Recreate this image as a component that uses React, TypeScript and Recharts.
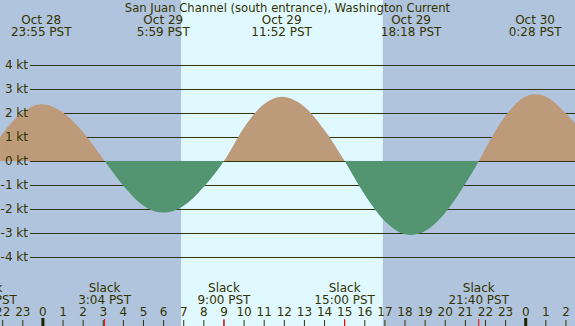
import React from "react";
import { ComposedChart, Area, XAxis, YAxis, CartesianGrid, ReferenceArea, ReferenceLine } from "recharts";

const TITLE = "San Juan Channel (south entrance), Washington Current";

// hours after Oct 29 00:00 PST, current speed in knots (flood +, ebb -)
const curveHours = [-2.13, -2, -1, -0.08, 1, 2, 3, 3.07, 4, 5, 5.98, 7, 8, 9, 10, 11, 11.87, 13, 14, 15, 16, 17, 18, 18.3, 19, 20, 21, 21.67, 22, 23, 24, 24.47, 25, 26, 26.45];
const curveKnots = [1.0, 1.15, 2.03, 2.36, 2.02, 1.2, 0.08, 0, -1.03, -1.86, -2.15, -1.86, -1.07, 0, 1.4, 2.38, 2.68, 2.26, 1.28, 0, -1.41, -2.51, -3.05, -3.08, -2.92, -2.16, -0.94, 0, 0.52, 1.89, 2.69, 2.78, 2.68, 1.98, 1.57];

const hourTicks = [-2, -1, 0, 1, 2, 3, 4, 5, 6, 7, 8, 9, 10, 11, 12, 13, 14, 15, 16, 17, 18, 19, 20, 21, 22, 23, 24, 25, 26];
const knotTicks = [-4, -3, -2, -1, 0, 1, 2, 3, 4];

// minutes after Oct 29 00:00 PST
const peakMinutes = [-5, 359, 712, 1098, 1468];
const slackMinutes = [-168, 184, 540, 900, 1300];
const daylightMinutes = [412, 1014];
const windowMinutes = [-128, 1587];
const knotRange = [-6.875, 6.7083];

const NIGHT = "#b0c4de";
const DAY = "#e0f8ff";
const FLOOD = "#bc9a7a";
const EBB = "#529570";
const INK = "#333300";
const FONT = "DejaVu Sans";
const W = 575;
const H = 326;

const data = curveHours.map((h, i) => ({ h, kt: curveKnots[i] }));
const slackHours = slackMinutes.map((m) => m / 60);
const xTicks = [...hourTicks, ...slackHours.slice(1)];
const xDomain = [windowMinutes[0] / 60, windowMinutes[1] / 60];

const maxKt = Math.max(...curveKnots);
const minKt = Math.min(...curveKnots);
const zeroOffset = maxKt / (maxKt - minKt);

const clock = (m: number) => {
  const mm = ((m % 1440) + 1440) % 1440;
  const min = mm % 60;
  return `${Math.floor(mm / 60)}:${min < 10 ? "0" : ""}${min} PST`;
};
const day = (m: number) => `Oct ${29 + Math.floor(m / 1440)}`;

const HourTick = (p: any) => {
  const { x, y, index, payload } = p;
  if (index >= hourTicks.length) {
    return <line x1={x} x2={x} y1={y - 7} y2={y} stroke="#ff0000" strokeWidth={1} />;
  }
  const hr = ((payload.value % 24) + 24) % 24;
  return (
    <g>
      {hr === 0 ? (
        <rect x={x - 1.5} y={y - 8} width={3} height={8} fill="#222200" />
      ) : (
        <line x1={x} x2={x} y1={y - 6} y2={y} stroke={INK} strokeWidth={1} />
      )}
      <text x={x} y={y - 10} textAnchor="middle" fontFamily={FONT} fontSize={12} fill={INK}>
        {hr}
      </text>
    </g>
  );
};

const KnotTick = (p: any) => (
  <text x={p.x + 28} y={p.y + 4} textAnchor="end" fontFamily={FONT} fontSize={12} fill={INK}>
    {`${p.payload.value} kt`}
  </text>
);

// only the knot gridlines, starting right of the labels
const GridLine = (g: any) => {
  if (g.y1 < g.y + 2 || g.y1 > g.y + g.height - 2) return <g key={g.key} />;
  return (
    <line key={g.key} x1={g.x1 + 30} x2={g.x2} y1={g.y1 + 0.5} y2={g.y2 + 0.5} stroke={INK} strokeWidth={1} />
  );
};

export default function App() {
  return (
    <div style={{ position: "absolute", left: 0, top: 0, width: W, height: H, background: NIGHT, overflow: "hidden" }}>
      {/* day / night background */}
      <div style={{ position: "absolute", left: 0, top: 0 }}>
        <ComposedChart width={W} height={H} data={data} margin={{ top: 0, right: 0, bottom: 0, left: 0 }}>
          <XAxis dataKey="h" type="number" domain={xDomain} allowDataOverflow hide />
          <YAxis type="number" domain={knotRange} allowDataOverflow hide />
          <ReferenceArea
            x1={daylightMinutes[0] / 60}
            x2={daylightMinutes[1] / 60}
            fill={DAY}
            fillOpacity={1}
            stroke="none"
          />
        </ComposedChart>
      </div>
      <div style={{ position: "absolute", left: 0, top: 0 }}>
        <ComposedChart width={W} height={H} data={data} margin={{ top: 0, right: 0, bottom: -1, left: -1 }}>
          <defs>
            <linearGradient id="flowFill" x1="0" y1="0" x2="0" y2="1">
              <stop offset={zeroOffset} stopColor={FLOOD} />
              <stop offset={zeroOffset} stopColor={EBB} />
            </linearGradient>
          </defs>
          <CartesianGrid vertical={false} horizontal={GridLine} />
          <XAxis
            dataKey="h"
            type="number"
            domain={xDomain}
            allowDataOverflow
            ticks={xTicks}
            interval={0}
            height={1}
            tickSize={0}
            tickMargin={0}
            axisLine={false}
            tick={HourTick}
          />
          <YAxis
            type="number"
            domain={knotRange}
            allowDataOverflow
            ticks={knotTicks}
            interval={0}
            width={1}
            tickSize={0}
            tickMargin={0}
            axisLine={false}
            tick={KnotTick}
          />
          <Area
            dataKey="kt"
            type="monotone"
            baseValue={0}
            stroke="none"
            fill="url(#flowFill)"
            fillOpacity={1}
            dot={false}
            activeDot={false}
            isAnimationActive={false}
          />
          {peakMinutes.map((m) => (
            <ReferenceLine
              key={`p${m}`}
              x={m / 60}
              stroke="none"
              ifOverflow="visible"
              label={(l: any) => (
                <g fontFamily={FONT} fontSize={12} fill={INK} textAnchor="middle">
                  <text x={l.viewBox.x} y={l.viewBox.y + 24}>{day(m)}</text>
                  <text x={l.viewBox.x} y={l.viewBox.y + 36}>{clock(m)}</text>
                </g>
              )}
            />
          ))}
          {slackMinutes.map((m) => (
            <ReferenceLine
              key={`s${m}`}
              x={m / 60}
              stroke="none"
              ifOverflow="visible"
              label={(l: any) => (
                <g fontFamily={FONT} fontSize={12} fill={INK} textAnchor="middle">
                  <text x={l.viewBox.x} y={l.viewBox.y + l.viewBox.height - 34}>Slack</text>
                  <text x={l.viewBox.x} y={l.viewBox.y + l.viewBox.height - 22}>{clock(m)}</text>
                </g>
              )}
            />
          ))}
        </ComposedChart>
      </div>
      <div
        style={{
          position: "absolute",
          left: 0,
          top: 1,
          width: W,
          textAlign: "center",
          fontFamily: FONT,
          fontSize: 11.6,
          lineHeight: "14px",
          color: INK,
          whiteSpace: "nowrap",
        }}
      >
        {TITLE}
      </div>
    </div>
  );
}
